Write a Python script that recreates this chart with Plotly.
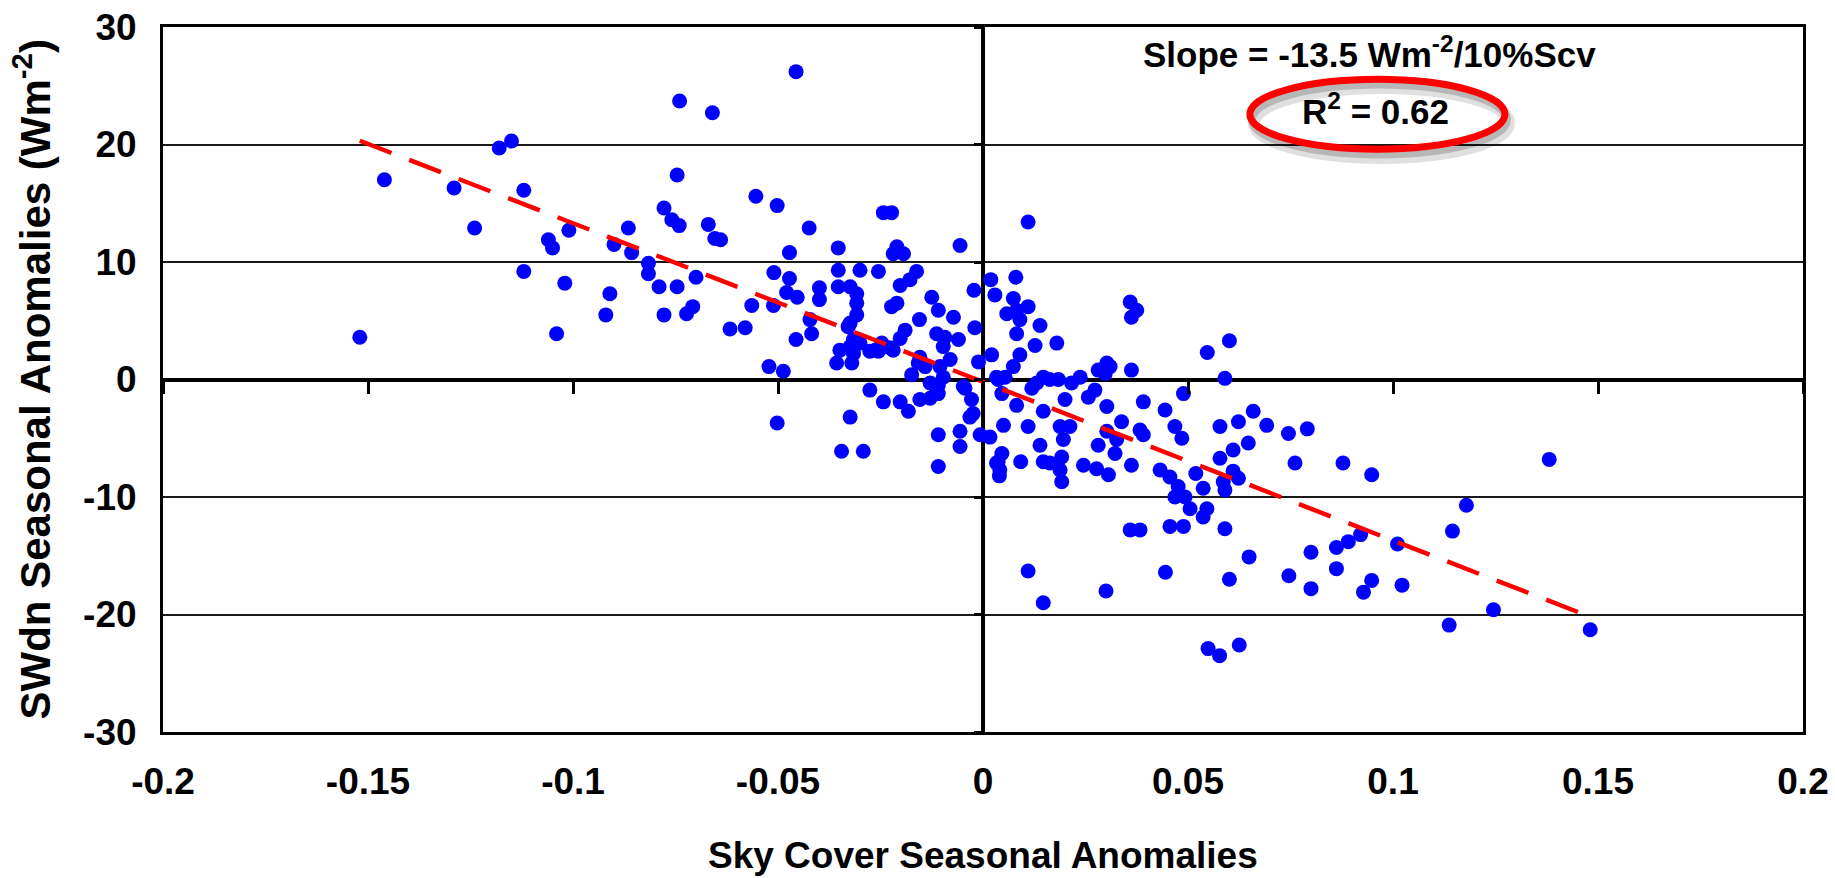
import plotly.graph_objects as go

# ---- data ----
sky_cover = [
    -0.152, -0.146, -0.129, -0.124, -0.118, -0.115, -0.112, -0.112, -0.106, -0.105,
    -0.104, -0.102, -0.101, -0.092, -0.091, -0.090, -0.0865, -0.0857, -0.0816, -0.0816,
    -0.074, -0.066, -0.0456, -0.0746, -0.079, -0.0778, -0.0759, -0.0741, -0.0746, -0.0778,
    -0.0723, -0.0708, -0.070, -0.067, -0.0654, -0.064, -0.0617, -0.058, -0.0564, -0.0554,
    -0.0502, -0.051, -0.0511, -0.0522, -0.0487, -0.0502, -0.0472, -0.0472, -0.0479, -0.0453,
    -0.0456, -0.0424, -0.0422, -0.0418, -0.0399, -0.0399, -0.0353, -0.0353, -0.0353, -0.0324,
    -0.0308, -0.0308, -0.0308, -0.0329, -0.030, -0.0255, -0.0243, -0.0223, -0.021, -0.0194,
    -0.0219, -0.0162, -0.0178, -0.0202, -0.021, -0.0223, -0.0155, -0.0125, -0.0109, -0.0072,
    -0.0056, -0.0022, 0.0019, 0.0029, -0.002, -0.0349, -0.0324, -0.030, -0.0357, -0.032,
    -0.0276, -0.0255, -0.0227, -0.0202, -0.019, -0.0154, -0.0174, -0.0113, -0.0093, -0.006,
    -0.0097, -0.008, -0.0105, -0.0097, -0.0109, -0.0109, -0.0129, -0.0154, -0.0182, -0.0202,
    -0.0243, -0.0276, -0.0324, -0.0345, -0.0292, -0.0109, -0.0109, -0.0056, -0.0056, -0.0048,
    -0.0028, -0.0024, -0.0011, 0.0021, -0.0007, 0.0017, 0.0033, 0.0033, 0.004, -0.0044,
    -0.0032, -0.0158, -0.0141, -0.0129, -0.0113, -0.0219, -0.0247, -0.0263, -0.0316, -0.0316,
    -0.0324,
    0.011, 0.008, 0.0074, 0.0082, 0.0058, 0.009, 0.011, 0.0139, 0.0082, 0.0127,
    0.018, 0.009, 0.0074, 0.0054, 0.0359, 0.0375, 0.0362, 0.0547, 0.0601, 0.059,
    0.0362, 0.0489, 0.0302, 0.0281, 0.0298, 0.031, 0.0237, 0.0216, 0.0273, 0.0257,
    0.0147, 0.0131, 0.0163, 0.0184, 0.0119, 0.0037, 0.0046, 0.0082, 0.0147, 0.020,
    0.0302, 0.0338, 0.0391, 0.0444, 0.0468, 0.0485, 0.0383, 0.0391, 0.0578, 0.0623,
    0.0659, 0.0692, 0.0745, 0.0791, 0.0647, 0.061, 0.0578, 0.0761, 0.061, 0.0623,
    0.0586, 0.059, 0.0519, 0.0537, 0.0432, 0.0456, 0.0476, 0.0468, 0.0493, 0.0505,
    0.0546, 0.0537, 0.0362, 0.0359, 0.0383, 0.0456, 0.0489, 0.059, 0.0245, 0.0277,
    0.0306, 0.0322, 0.0326, 0.0302, 0.0281, 0.0188, 0.0196, 0.0192, 0.0188, 0.0192,
    0.0163, 0.0147, 0.0212, 0.0139, 0.011, 0.0092, 0.005, 0.0046, 0.0037, 0.0041,
    0.0878, 0.0948, 0.1381, 0.0649, 0.0445, 0.0601, 0.0549, 0.0577, 0.0625, 0.0746,
    0.080, 0.080, 0.0862, 0.0891, 0.0921, 0.0862, 0.0928, 0.0948, 0.1011, 0.1022,
    0.1137, 0.1145, 0.1179, 0.1245, 0.1481, 0.011, 0.0147, 0.030,
]
swdn = [
    3.6, 17.0, 16.3, 12.9, 19.7, 20.3, 16.1, 9.2, 11.9, 11.2,
    3.9, 8.2, 12.7, 5.5, 7.3, 11.5, 12.9, 10.8, 9.9, 9.0,
    23.7, 22.7, 26.2, 17.4, 7.9, 14.6, 13.6, 13.1, 7.9, 5.5,
    5.6, 6.2, 8.7, 13.2, 12.0, 11.9, 4.3, 4.4, 6.3, 15.6,
    14.8, 9.1, 6.3, 1.1, 0.7, -3.7, 10.8, 8.6, 7.4, 7.0,
    3.4, 12.9, 5.1, 3.9, 7.8, 6.8, 11.2, 9.3, 7.9, 7.9,
    7.3, 6.5, 5.5, 4.5, 9.3, 9.2, 14.2, 14.2, 11.3, 10.7,
    10.7, 9.2, 8.5, 8.0, 6.5, 6.2, 5.1, 7.0, 5.9, 5.3,
    11.4, 7.6, 8.5, 7.2, 4.4, 2.5, 2.8, 3.1, 1.4, 1.4,
    2.4, 2.4, 2.7, 3.5, 4.2, 1.9, 0.4, 3.9, 3.6, 3.4,
    2.8, 1.7, 1.1, 0.2, -0.5, -1.2, -1.6, -1.7, -2.7, -1.9,
    -1.9, -0.9, -3.2, -6.1, -6.1, -4.7, -7.4, -4.4, -5.7, -0.6,
    -1.7, -2.9, 1.5, 2.1, -4.7, -4.9, 0.2, -7.1, -8.2, -0.75,
    -3.2, 1.4, 1.1, -0.3, -0.9, 2.5, 3.1, 2.5, 2.2, 3.4,
    4.8,
    13.4, 8.7, 6.9, 5.9, 5.6, 5.1, 6.2, 4.6, 3.9, 2.9,
    3.1, 2.1, 1.1, 0.2, 6.6, 5.9, 5.3, 2.3, 3.3, 0.1,
    0.8, -1.2, 1.4, 0.8, 0.5, 1.1, 0.2, -0.3, -0.9, -1.5,
    0.2, -0.3, 0.0, 0.0, -0.75, 0.0, -1.2, -2.2, -2.7, -1.7,
    -2.3, -3.6, -1.9, -2.6, -4.0, -5.0, -4.3, -4.7, -4.0, -3.6,
    -2.7, -3.9, -4.6, -4.2, -5.4, -6.0, -6.7, -7.1, -7.8, -8.4,
    -8.7, -9.4, -8.0, -9.25, -7.7, -8.3, -9.1, -10.0, -10.0, -11.0,
    -11.0, -11.7, -7.3, -12.8, -12.8, -12.5, -12.5, -12.7, -7.3, -7.6,
    -8.1, -6.3, -5.1, -4.4, -5.6, -4.0, -5.1, -6.6, -7.7, -8.7,
    -7.1, -7.0, -4.0, -5.6, -4.0, -7.0, -3.9, -6.3, -7.0, -7.7,
    -7.1, -8.1, -6.8, -15.1, -16.4, -17.0, -22.9, -23.5, -22.6, -16.7,
    -14.7, -17.8, -14.3, -13.8, -13.2, -16.1, -18.1, -17.1, -14.0, -17.5,
    -20.9, -12.9, -10.7, -19.6, -21.3, -16.3, -19.0, -18.0,
]

# regression reported on the chart: -13.5 W m-2 per 10 % sky cover
fit_slope = -135.0
fit_intercept = -0.2

x_tickvals = [-0.2, -0.15, -0.1, -0.05, 0, 0.05, 0.1, 0.15, 0.2]
x_ticktext = ["-0.2", "-0.15", "-0.1", "-0.05", "0", "0.05", "0.1", "0.15", "0.2"]
y_tickvals = [-30, -20, -10, 0, 10, 20, 30]
y_ticktext = ["-30", "-20", "-10", "0", "10", "20", "30"]

x_title = "Sky Cover Seasonal Anomalies"
y_title = "SWdn Seasonal Anomalies (Wm<sup>-2</sup>)"

FONT = "Liberation Sans, Arial, sans-serif"

fit_x = [min(sky_cover), max(sky_cover)]
fit_y = [fit_slope * v + fit_intercept for v in fit_x]

fig = go.Figure()
fig.add_trace(go.Scatter(
    x=sky_cover, y=swdn, mode="markers",
    marker=dict(color="#0000FF", size=15, line=dict(width=0)),
    showlegend=False, hoverinfo="x+y",
))
fig.add_trace(go.Scatter(
    x=fit_x, y=fit_y, mode="lines",
    line=dict(color="#FF0000", width=4.5, dash="34px,19px"),
    showlegend=False, hoverinfo="skip",
))
# dummy trace to activate the overlay axes that carry the ticks on the zero lines
fig.add_trace(go.Scatter(x=[None], y=[None], xaxis="x2", yaxis="y2",
                         showlegend=False, hoverinfo="skip"))

tick_font = dict(family=FONT, size=37, color="black", weight="bold")
xtitle_font = dict(family=FONT, size=37, color="black", weight="bold")
ytitle_font = dict(family=FONT, size=42, color="black", weight="bold")
note_font = dict(family=FONT, size=35, color="black", weight="bold")

fig.update_layout(
    width=1835, height=878,
    margin=dict(l=163, r=32, t=27, b=146, autoexpand=False),
    paper_bgcolor="white", plot_bgcolor="white",
    xaxis=dict(
        range=[-0.2, 0.2], tickvals=x_tickvals, ticktext=x_ticktext,
        tickfont=tick_font, ticks="", ticklabelstandoff=15, automargin=False,
        showgrid=False, zeroline=True, zerolinecolor="black", zerolinewidth=3.5,
        showline=True, linecolor="black", linewidth=3, mirror=True,
    ),
    yaxis=dict(
        range=[-30, 30], tickvals=y_tickvals, ticktext=y_ticktext,
        tickfont=tick_font, ticks="", ticklabelstandoff=16, automargin=False,
        showgrid=True, gridcolor="#1a1a1a", gridwidth=1.6,
        zeroline=True, zerolinecolor="black", zerolinewidth=3.5,
        showline=True, linecolor="black", linewidth=3, mirror=True,
    ),
    xaxis2=dict(
        overlaying="x", anchor="free", position=0.5, side="bottom", automargin=False,
        range=[-0.2, 0.2], tickvals=x_tickvals, ticks="outside", ticklen=13,
        tickwidth=3, tickcolor="black", showticklabels=False,
        showgrid=False, zeroline=False, showline=False,
    ),
    yaxis2=dict(
        overlaying="y", anchor="free", position=0.5, side="left", automargin=False,
        range=[-30, 30], tickvals=y_tickvals, ticks="outside", ticklen=9,
        tickwidth=3, tickcolor="black", showticklabels=False,
        showgrid=False, zeroline=False, showline=False,
    ),
    annotations=[
        dict(text=x_title, x=0.5, y=0, xref="paper", yref="paper",
             xanchor="center", yanchor="top", yshift=-101, showarrow=False,
             font=xtitle_font),
        dict(text=y_title, x=-0.0799, y=0.5, xref="paper", yref="paper", textangle=-90,
             xanchor="center", yanchor="middle", showarrow=False, font=ytitle_font),
        dict(text="Slope = -13.5 Wm<sup>-2</sup>/10%Scv", x=0.0942, y=27.9,
             xref="x", yref="y", xanchor="center", yanchor="middle",
             showarrow=False, font=note_font),
        dict(text="R<sup>2</sup> = 0.62", x=0.0958, y=23.0,
             xref="x", yref="y", xanchor="center", yanchor="middle",
             showarrow=False, font=note_font),
    ],
    shapes=[
        dict(type="circle", xref="x", yref="y", x0=0.0661, x1=0.1283, y0=18.85, y1=24.8,
             line=dict(color="rgba(0,0,0,0.12)", width=12), layer="above"),
        dict(type="circle", xref="x", yref="y", x0=0.0656, x1=0.1278, y0=19.15, y1=25.1,
             line=dict(color="rgba(0,0,0,0.18)", width=8), layer="above"),
        dict(type="circle", xref="x", yref="y", x0=0.0651, x1=0.1273, y0=19.6, y1=25.55,
             line=dict(color="#FF0000", width=7), layer="above"),
    ],
)

fig.write_html("out.html", config={"displayModeBar": False},
               post_script="document.body.style.margin='0px';")
